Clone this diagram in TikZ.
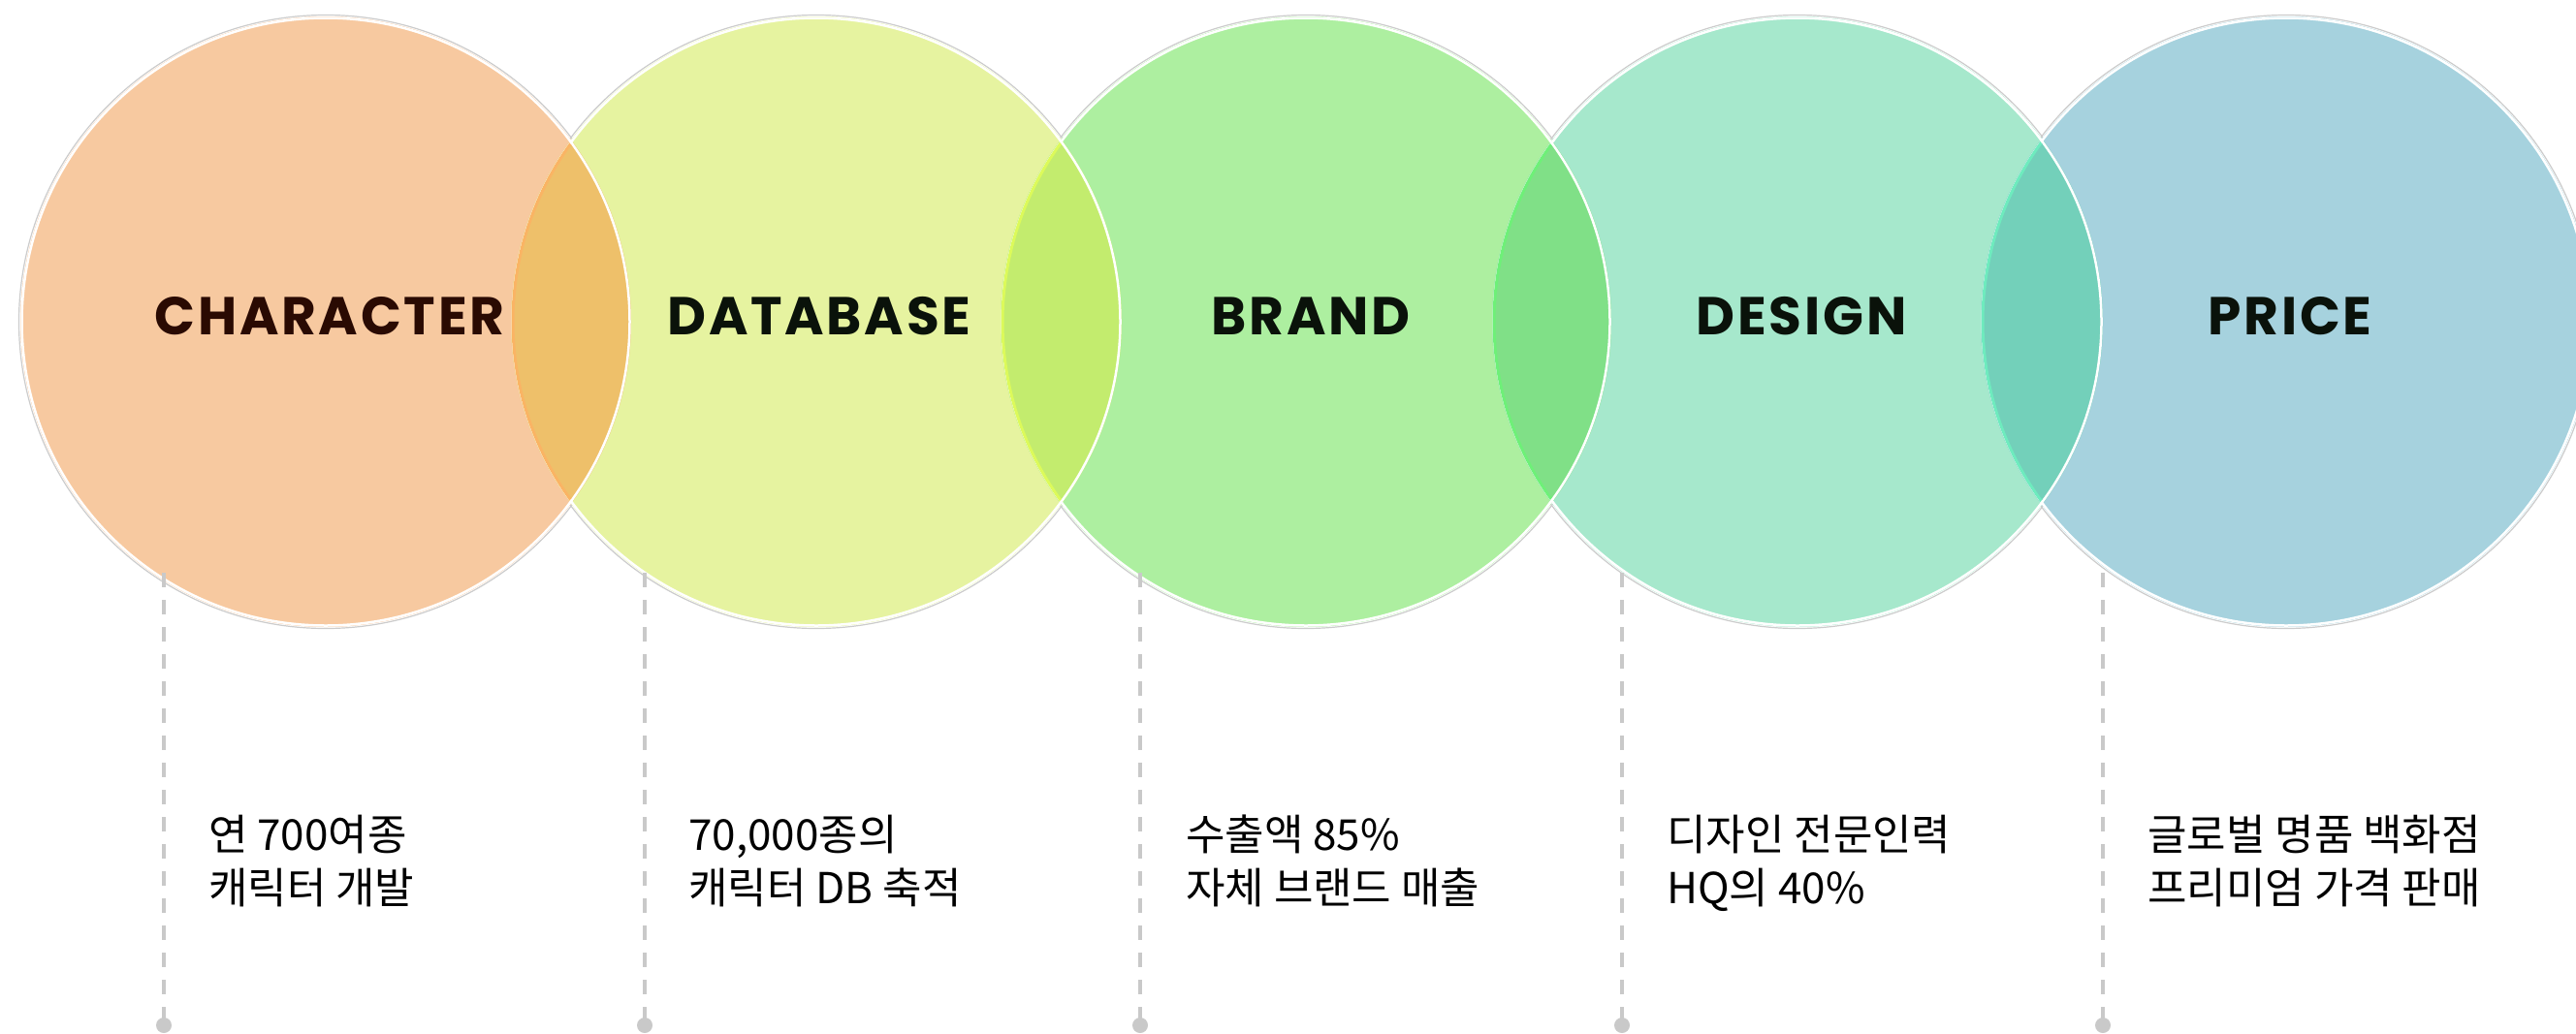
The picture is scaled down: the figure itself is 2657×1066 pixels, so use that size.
\documentclass[tikz,border=0pt]{standalone}
\usepackage{fontspec}
\newfontfamily\kr{Noto Sans CJK KR}
\newfontfamily\hd{Poppins}[LetterSpace=5]
\definecolor{cA}{HTML}{F7C9A0}
\definecolor{cB}{HTML}{E6F3A0}
\definecolor{cC}{HTML}{ADEFA0}
\definecolor{cD}{HTML}{A6E8CC}
\definecolor{cE}{HTML}{A6D2DE}
\definecolor{lAB}{HTML}{EEC06A}
\definecolor{lBC}{HTML}{C3EC6E}
\definecolor{lCD}{HTML}{80E087}
\definecolor{lDE}{HTML}{73D0BA}
\definecolor{sAB}{HTML}{FAB464}
\definecolor{sBC}{HTML}{DCFA5A}
\definecolor{sCD}{HTML}{6EF078}
\definecolor{sDE}{HTML}{6EEBBE}
\definecolor{dashgray}{HTML}{C9C9C9}
\definecolor{inkA}{HTML}{2A0A02}
\definecolor{ink}{HTML}{0A120A}
\tikzset{
  rim/.style={draw=black!20, line width=1.2pt},
  ring/.style={draw=white, line width=2.5pt},
  dashline/.style={draw=dashgray, line width=3.5pt, dash pattern=on 15pt off 13pt},
  enddot/.style={circle, fill=dashgray, minimum size=16pt, inner sep=0pt},
  head/.style={font=\hd\bfseries\fontsize{55}{60}\selectfont, inner sep=0pt},
  lbl/.style={anchor=base west, inner sep=0pt, font=\kr\fontsize{44}{56}\selectfont, text=black},
}
\begin{document}
\begin{tikzpicture}[x=1pt,y=-1pt]
\useasboundingbox (0,0) rectangle (2657,1066);
\fill[white] (0,0) rectangle (2657,1066);
% centres
\coordinate (pA) at (336,332);
\coordinate (pB) at (842,332);
\coordinate (pC) at (1347,332);
\coordinate (pD) at (1854,332);
\coordinate (pE) at (2358,332);
\def\R{315pt}
% faint outer rims
\foreach \p in {pA,pB,pC,pD,pE}{\draw[rim] (\p) circle[radius=316.5pt];}
% fills
\fill[cA] (pA) circle[radius=\R];
\fill[cB] (pB) circle[radius=\R];
\fill[cC] (pC) circle[radius=\R];
\fill[cD] (pD) circle[radius=\R];
\fill[cE] (pE) circle[radius=\R];
% lenses
\begin{scope}\clip (pA) circle[radius=\R]; \fill[lAB] (pB) circle[radius=\R];\end{scope}
\begin{scope}\clip (pB) circle[radius=\R]; \fill[lBC] (pC) circle[radius=\R];\end{scope}
\begin{scope}\clip (pC) circle[radius=\R]; \fill[lCD] (pD) circle[radius=\R];\end{scope}
\begin{scope}\clip (pD) circle[radius=\R]; \fill[lDE] (pE) circle[radius=\R];\end{scope}
% white rings
\foreach \p in {pA,pB,pC,pD,pE}{\draw[ring] (\p) circle[radius=313.5pt];}
% saturated lens edges
\begin{scope}\clip (pA) circle[radius=312pt]; \draw[sAB, line width=3pt] (pB) circle[radius=313pt];\end{scope}
\begin{scope}\clip (pB) circle[radius=312pt]; \draw[sBC, line width=3pt] (pC) circle[radius=313pt];\end{scope}
\begin{scope}\clip (pC) circle[radius=312pt]; \draw[sCD, line width=3pt] (pD) circle[radius=313pt];\end{scope}
\begin{scope}\clip (pD) circle[radius=312pt]; \draw[sDE, line width=3pt] (pE) circle[radius=313pt];\end{scope}
% headings
\node[head, text=inkA] (hA) at (340,326) {CHARACTER};
\node[head, text=ink] (hB) at (845,326) {DATABASE};
\node[head, text=ink] (hC) at (1352,326) {BRAND};
\node[head, text=ink] (hD) at (1858,326) {DESIGN};
\node[head, text=ink] (hE) at (2362,326) {PRICE};
% dashed leaders
\foreach \n/\x in {A/169,B/665,C/1176,D/1673,E/2169}{
  \coordinate (t\n) at (\x,591);
  \node[enddot] (b\n) at (\x,1058) {};
  \draw[dashline] (t\n) -- (b\n.center);
}
% labels
\node[lbl] (aA1) at (215,877) {연 700여종};
\node[lbl] (aA2) at (215,932) {캐릭터 개발};
\node[lbl] (aB1) at (710,877) {70,000종의};
\node[lbl] (aB2) at (710,932) {캐릭터 DB 축적};
\node[lbl] (aC1) at (1223,877) {수출액 85\%};
\node[lbl] (aC2) at (1223,932) {자체 브랜드 매출};
\node[lbl] (aD1) at (1719,877) {디자인 전문인력};
\node[lbl] (aD2) at (1719,932) {HQ의 40\%};
\node[lbl] (aE1) at (2215,877) {글로벌 명품 백화점};
\node[lbl] (aE2) at (2215,932) {프리미엄 가격 판매};
\end{tikzpicture}
\end{document}
